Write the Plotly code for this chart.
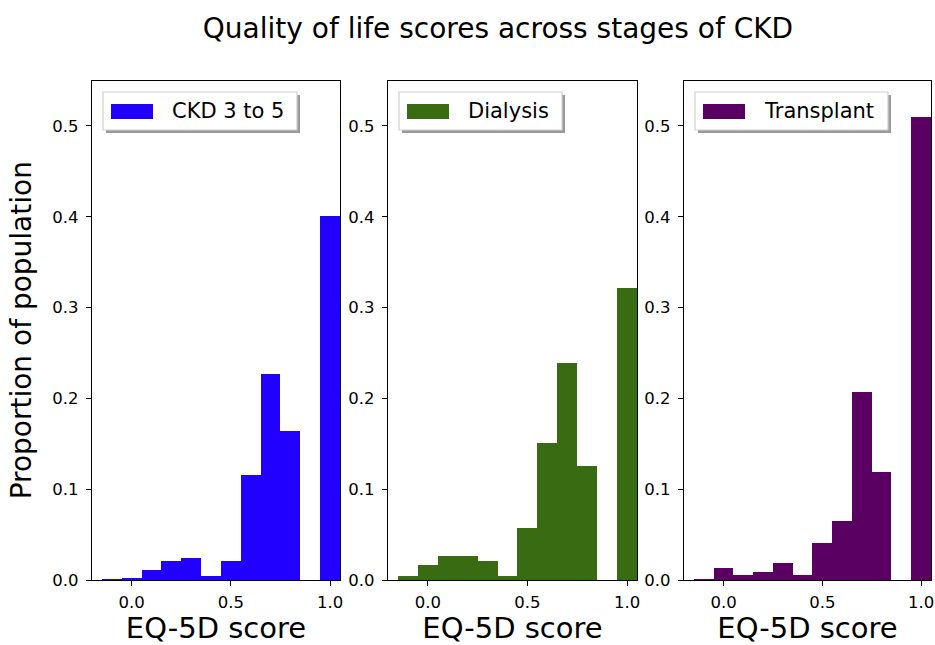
import plotly.graph_objects as go

bin_centers = [-0.1, 0.0, 0.1, 0.2, 0.3, 0.4, 0.5, 0.6, 0.7, 0.8, 0.9, 1.0]
ckd_3_to_5 = [0.002, 0.003, 0.012, 0.021, 0.0245, 0.0045, 0.021, 0.116, 0.227, 0.165, 0.0, 0.401]
dialysis = [0.0045, 0.017, 0.027, 0.027, 0.021, 0.0045, 0.058, 0.151, 0.240, 0.126, 0.0, 0.322]
transplant = [0.0015, 0.014, 0.006, 0.009, 0.019, 0.006, 0.041, 0.066, 0.208, 0.120, 0.0, 0.51]

names = ["CKD 3 to 5", "Dialysis", "Transplant"]
colors = ["#2200ff", "#386b12", "#5a0062"]
series = [ckd_3_to_5, dialysis, transplant]
x_ticks = [0.0, 0.5, 1.0]
y_ticks = [0.0, 0.1, 0.2, 0.3, 0.4, 0.5]

W, H = 935, 645
domains_px = [(92, 340), (388, 637), (684, 931)]
legend_w_px = [194, 163, 193]
top_px, bottom_px = 80.5, 580

def px(x):
    return x / W

def py(y):
    return 1 - y / H

fig = go.Figure()
font_family = "DejaVu Sans"
layout = dict(
    width=W, height=H, margin=dict(l=0, r=0, t=0, b=0, autoexpand=False),
    paper_bgcolor="white", plot_bgcolor="white",
    font=dict(family=font_family, color="black"),
    bargap=0, showlegend=False,
    title=dict(text="Quality of life scores across stages of CKD", x=px(498), xanchor="center",
               y=py(28), yanchor="middle", font=dict(size=28, family=font_family)),
)
shapes = []
annotations = []
for i, (name, col, vals) in enumerate(zip(names, colors, series)):
    ax = "" if i == 0 else str(i + 1)
    fig.add_trace(go.Bar(x=bin_centers, y=vals, width=0.1, name=name,
                         marker=dict(color=col, line=dict(width=0)),
                         xaxis="x" + ax, yaxis="y" + ax))
    x0, x1 = domains_px[i]
    layout["xaxis" + ax] = dict(
        domain=[px(x0), px(x1)], range=[-0.2, 1.05], anchor="y" + ax, automargin=False,
        tickvals=x_ticks, tickformat=".1f", ticks="outside", ticklen=5, tickwidth=1.2,
        tickcolor="black", tickfont=dict(size=16.5), ticklabelstandoff=2,
        ticklabeloverflow="allow",
        showline=True, linecolor="black",
        linewidth=1.3, mirror=True, showgrid=False, zeroline=False,
        title=dict(text="EQ-5D score", font=dict(size=29), standoff=10),
    )
    layout["yaxis" + ax] = dict(
        domain=[py(bottom_px), py(top_px)], range=[0, 0.55], anchor="x" + ax, automargin=False,
        tickvals=y_ticks, tickformat=".1f", ticks="outside", ticklen=5, tickwidth=1.2,
        tickcolor="black", tickfont=dict(size=16.5), ticklabelstandoff=4,
        ticklabeloverflow="allow",
        showline=True, linecolor="black",
        linewidth=1.3, mirror=True, showgrid=False, zeroline=False,
    )
    if i == 0:
        layout["yaxis"]["title"] = dict(text="Proportion of population", font=dict(size=28), standoff=12)
    # legend box (matplotlib-style, with shadow)
    bl = x0 + 11
    br = bl + legend_w_px[i]
    bt, bb = 92, 130
    shapes.append(dict(type="rect", xref="paper", yref="paper", x0=px(bl + 3), x1=px(br + 3),
                       y0=py(bb + 3), y1=py(bt + 3), fillcolor="#9a9a9a", line=dict(width=0),
                       layer="above"))
    shapes.append(dict(type="rect", xref="paper", yref="paper", x0=px(bl), x1=px(br),
                       y0=py(bb), y1=py(bt), fillcolor="white",
                       line=dict(color="#d0d0d0", width=1.2), layer="above"))
    shapes.append(dict(type="rect", xref="paper", yref="paper", x0=px(bl + 8), x1=px(bl + 50),
                       y0=py(119), y1=py(104), fillcolor=col, line=dict(width=0), layer="above"))
    annotations.append(dict(text=name, xref="paper", yref="paper", x=px(bl + 67), y=py(111),
                            xanchor="left", yanchor="middle", showarrow=False,
                            font=dict(size=21, family=font_family, color="black")))
layout["shapes"] = shapes
layout["annotations"] = annotations
fig.update_layout(**layout)
fig.write_html("out.html")
